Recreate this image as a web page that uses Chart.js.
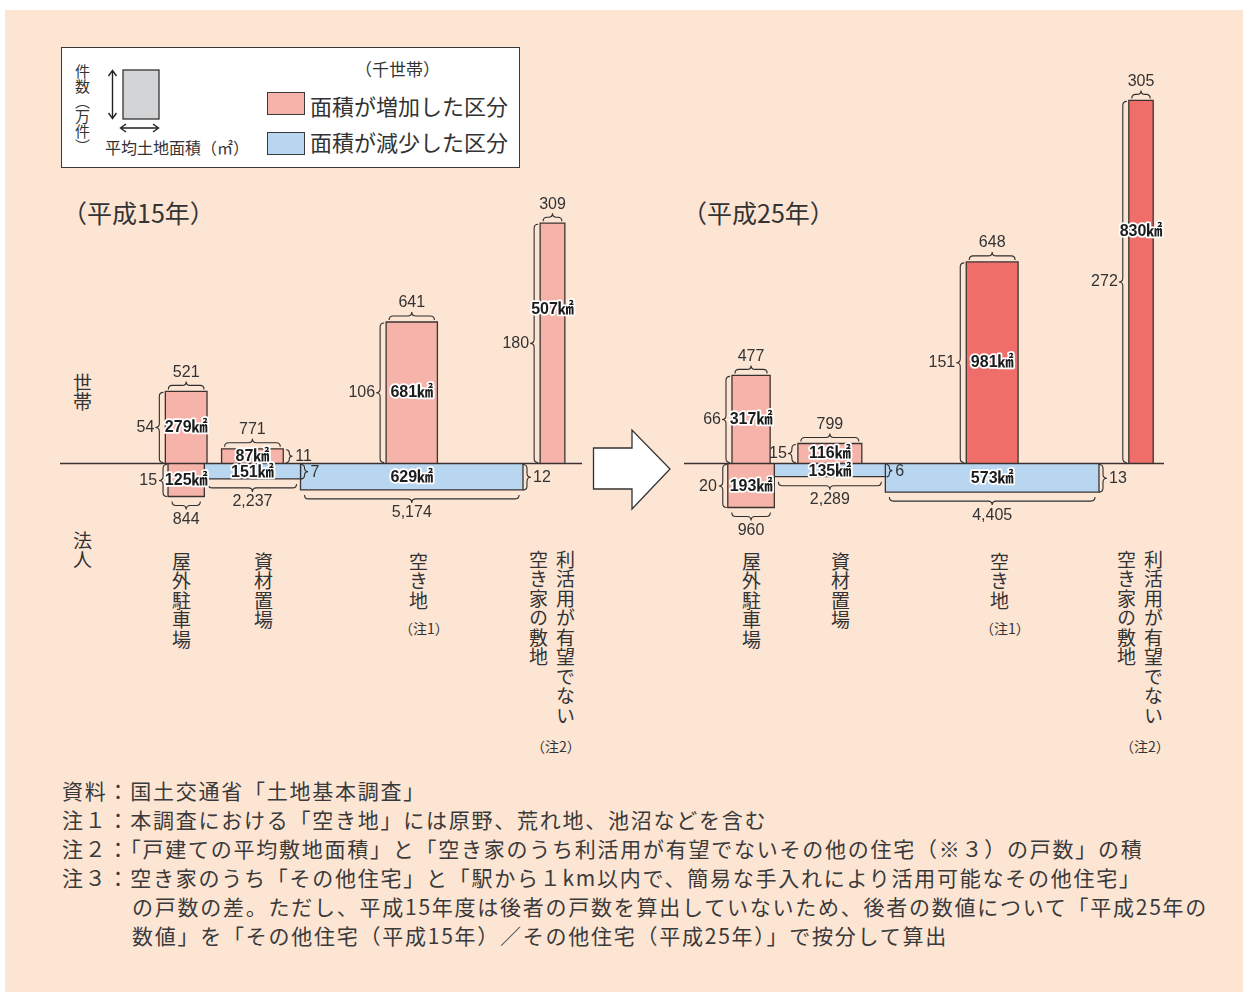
<!DOCTYPE html>
<html lang="ja">
<head>
<meta charset="utf-8">
<script src="https://cdn.jsdelivr.net/npm/chart.js@4.4.1/dist/chart.umd.min.js"></script>
<style>
  body { margin: 0; width: 1243px; height: 992px; background: #fff; position: relative; overflow: hidden;
         font-family: "Noto Sans CJK JP", sans-serif; color: #333; }
  #bg { position: absolute; left: 5px; top: 10px; right: 0; bottom: 0; background: #fde5d4; }
  .abs { position: absolute; white-space: nowrap; }
  .vt { writing-mode: vertical-rl; }
  canvas { position: absolute; }
  #legend { position: absolute; left: 61px; top: 47px; width: 459px; height: 121px; box-sizing: border-box;
            border: 1.5px solid #3a3a3a; background: #fff; }
  .sw { position: absolute; width: 38px; height: 23px; box-sizing: border-box; border: 1.5px solid #3a3a3a; }
  .title { font-size: 25px; line-height: 30px; }
  .cat { font-size: 19px; letter-spacing: 0.5px; line-height: 20px; }
  .chu { font-size: 14px; line-height: 18px; }
  .note { font-size: 21px; letter-spacing: 1.75px; line-height: 30px; color: #3a3a3a; }
</style>
</head>
<body>
<div id="bg"></div>

<div id="legend"></div>
<svg class="abs" style="left:100px;top:60px" width="70" height="80">
  <rect x="23" y="10" width="36" height="49" fill="#d3d4d6" stroke="#333" stroke-width="1.3"/>
  <g stroke="#222" stroke-width="1.4" fill="none">
    <line x1="12.5" y1="11" x2="12.5" y2="58"/>
    <polyline points="8.5,16 12.5,10.5 16.5,16"/>
    <polyline points="8.5,53 12.5,58.5 16.5,53"/>
    <line x1="21" y1="68" x2="58" y2="68"/>
    <polyline points="26,64 20.5,68 26,72"/>
    <polyline points="53,64 58.5,68 53,72"/>
  </g>
</svg>
<div class="abs vt" style="left:74px;top:64px;font-size:15px;line-height:16px">件数（万件）</div>
<div class="abs" style="left:105px;top:136px;font-size:16px;line-height:22px">平均土地面積（㎡）</div>
<div class="abs" style="left:355px;top:57px;font-size:17px;line-height:24px">（千世帯）</div>
<div class="sw" style="left:267px;top:92px;background:#f6b3a9"></div>
<div class="abs" style="left:310px;top:89px;font-size:22px;line-height:32px">面積が増加した区分</div>
<div class="sw" style="left:267px;top:132px;background:#b9d6f0"></div>
<div class="abs" style="left:310px;top:125px;font-size:22px;line-height:32px">面積が減少した区分</div>

<div class="abs title" style="left:62px;top:197px">（平成15年）</div>
<div class="abs title" style="left:682px;top:197px">（平成25年）</div>

<div class="abs vt" style="left:73px;top:373px;font-size:19px;line-height:19px">世帯</div>
<div class="abs vt" style="left:73px;top:531px;font-size:19px;line-height:19px">法人</div>

<svg class="abs" style="left:590px;top:426px" width="85" height="88">
  <polygon points="3.5,22 42,22 42,4 80,43 42,83 42,63 3.5,63" fill="#fff" stroke="#333" stroke-width="1.3"/>
</svg>

<canvas id="c15" width="522" height="475" style="left:60px;top:60px"></canvas>
<canvas id="c25" width="480" height="475" style="left:684px;top:60px"></canvas>

<!-- 区分名（縦書き） -->
<div class="abs vt cat" style="left:171px;top:552px">屋外駐車場</div>
<div class="abs vt cat" style="left:253px;top:552px">資材置場</div>
<div class="abs vt cat" style="left:408px;top:552px">空き地</div>
<div class="abs chu" style="left:399px;top:619px">（注1）</div>
<div class="abs vt cat" style="left:555px;top:550px">利活用が有望でない</div>
<div class="abs vt cat" style="left:528px;top:550px">空き家の敷地</div>
<div class="abs chu" style="left:531px;top:737px">（注2）</div>

<div class="abs vt cat" style="left:741px;top:552px">屋外駐車場</div>
<div class="abs vt cat" style="left:830px;top:552px">資材置場</div>
<div class="abs vt cat" style="left:989px;top:552px">空き地</div>
<div class="abs chu" style="left:980px;top:619px">（注1）</div>
<div class="abs vt cat" style="left:1143px;top:550px">利活用が有望でない</div>
<div class="abs vt cat" style="left:1116px;top:550px">空き家の敷地</div>
<div class="abs chu" style="left:1120px;top:737px">（注2）</div>

<div class="abs note" style="left:62px;top:775px">資料：国土交通省「土地基本調査」</div>
<div class="abs note" style="left:62px;top:804px">注１：本調査における「空き地」には原野、荒れ地、池沼などを含む</div>
<div class="abs note" style="left:62px;top:833px">注２：「戸建ての平均敷地面積」と「空き家のうち利活用が有望でないその他の住宅（※３）の戸数」の積</div>
<div class="abs note" style="left:62px;top:862px">注３：空き家のうち「その他住宅」と「駅から１km以内で、簡易な手入れにより活用可能なその他住宅」</div>
<div class="abs note" style="left:132px;top:891px">の戸数の差。ただし、平成15年度は後者の戸数を算出していないため、後者の数値について「平成25年の</div>
<div class="abs note" style="left:132px;top:920px">数値」を「その他住宅（平成15年）／その他住宅（平成25年）」で按分して算出</div>

<script>
const categories = ['屋外駐車場', '資材置場', '空き地', '利活用が有望でない空き家の敷地'];

// 平成15年: 世帯（件数・平均面積㎡・総面積㎢）と法人
const hh15Count = [54, 11, 106, 180];
const hh15Area = [521, 771, 641, 309];
const hh15Total = [279, 87, 681, 507];
const corp15Count = [15, 7, 12];
const corp15Area = [844, 2237, 5174];
const corp15Total = [125, 151, 629];

// 平成25年
const hh25Count = [66, 15, 151, 272];
const hh25Area = [477, 799, 648, 305];
const hh25Total = [317, 116, 981, 830];
const corp25Count = [20, 6, 13];
const corp25Area = [960, 2289, 4405];
const corp25Total = [193, 135, 573];

const PINK = '#f6b3a9', RED = '#ef6e69', BLUE = '#b9d6f0', EDGE = '#3b3330';
const hh15Color = [PINK, PINK, PINK, PINK];
const corp15Color = [PINK, BLUE, BLUE];
const hh25Color = [PINK, PINK, RED, RED];
const corp25Color = [PINK, BLUE, BLUE];

const AXIS_Y = 403.5;      // baseline inside each canvas
const PX_HH = 1.335;       // px per 世帯件数
const PX_CORP = 2.2;       // px per 法人件数
const PX_HH_AREA = 0.08;   // px per ㎡ (世帯)
const NUM_FONT = '16px "Liberation Sans", "Noto Sans CJK JP", sans-serif';
const AREA_FONT = 'bold 16px "Liberation Sans", "Noto Sans CJK JP", sans-serif';

const fmt = v => v.toLocaleString('en-US');

function rect(x0, x1, h) {
  return [{x: x0, y: 0}, {x: x0, y: h}, {x: x1, y: h}, {x: x1, y: 0}];
}

// curly brace along a->b, tip pointing to (nx, ny)
function brace(ctx, ax, ay, bx, by, nx, ny, q) {
  const len = Math.hypot(bx - ax, by - ay);
  const tx = (bx - ax) / len, ty = (by - ay) / len;
  q = Math.min(q, len / 4);
  const P = (u, v) => [ax + tx * u + nx * v, ay + ty * u + ny * v];
  const m = len / 2;
  ctx.beginPath();
  ctx.moveTo(...P(0, -q));
  ctx.quadraticCurveTo(...P(0, 0), ...P(q, 0));
  ctx.lineTo(...P(m - q, 0));
  ctx.quadraticCurveTo(...P(m, 0), ...P(m, q));
  ctx.quadraticCurveTo(...P(m, 0), ...P(m + q, 0));
  ctx.lineTo(...P(len - q, 0));
  ctx.quadraticCurveTo(...P(len, 0), ...P(len, -q));
  ctx.stroke();
}

function haloText(ctx, text, x, y) {
  ctx.font = AREA_FONT;
  ctx.textAlign = 'center';
  ctx.textBaseline = 'middle';
  ctx.lineJoin = 'round';
  ctx.lineWidth = 3.5;
  ctx.strokeStyle = '#fff';
  ctx.strokeText(text, x, y);
  ctx.fillStyle = '#1c1c1c';
  ctx.fillText(text, x, y);
}

function buildPanel(id, p) {
  const canvas = document.getElementById(id);
  const W = canvas.width, H = canvas.height;
  const corpSum = p.corpArea.reduce((a, b) => a + b, 0);
  const minC = corpSum - (p.corpEnd - p.left) / p.kC;
  const maxC = minC + W / p.kC;
  const r = p.kC / PX_HH_AREA;

  // 法人の区分は左から隙間なく並べ、世帯の棒はその中央に置く
  const corpX = [];
  let acc = 0;
  p.corpArea.forEach(a => { corpX.push([acc, acc + a]); acc += a; });
  const centers = corpX.map(c => (c[0] + c[1]) / 2);
  centers.push(corpSum + p.lastGap / p.kC);
  const hhX = p.hhArea.map((a, i) => [centers[i] * r - a / 2, centers[i] * r + a / 2]);

  const common = {showLine: true, fill: 'origin', pointRadius: 0, borderColor: EDGE,
                  borderWidth: 1.3, borderJoinStyle: 'miter', tension: 0};
  const datasets = [];
  p.hhCount.forEach((n, i) => datasets.push(Object.assign({
    label: categories[i], data: rect(hhX[i][0], hhX[i][1], n),
    xAxisID: 'xH', yAxisID: 'yH', backgroundColor: p.hhColor[i]}, common)));
  p.corpCount.forEach((n, i) => datasets.push(Object.assign({
    label: categories[i], data: rect(corpX[i][0], corpX[i][1], n),
    xAxisID: 'xC', yAxisID: 'yC', backgroundColor: p.corpColor[i]}, common)));

  const annotate = {
    id: 'annotate',
    afterDatasetsDraw(chart) {
      const {ctx, chartArea} = chart;
      const {xH, yH, xC, yC} = chart.scales;
      const base = yH.getPixelForValue(0);
      ctx.save();
      ctx.strokeStyle = '#3a3230';
      ctx.lineWidth = 1.5;
      ctx.beginPath();
      ctx.moveTo(chartArea.left, base);
      ctx.lineTo(chartArea.right, base);
      ctx.stroke();

      ctx.lineWidth = 1.1;
      ctx.strokeStyle = '#2e2e2e';

      p.hhCount.forEach((n, i) => {
        const L = xH.getPixelForValue(hhX[i][0]);
        const R = xH.getPixelForValue(hhX[i][1]);
        const T = yH.getPixelForValue(n);
        const yb = T - 6;
        brace(ctx, L + 3, yb, R - 3, yb, 0, -1, 4);
        ctx.fillStyle = '#333'; ctx.font = NUM_FONT;
        ctx.textAlign = 'center'; ctx.textBaseline = 'bottom';
        ctx.fillText(fmt(p.hhArea[i]), (L + R) / 2, yb - 5);
        const right = p.hhSide[i] === 'R';
        const xb = right ? R + 6 : L - 6;
        brace(ctx, xb, base - 1, xb, T + 1, right ? 1 : -1, 0, 4);
        ctx.textBaseline = 'middle';
        ctx.textAlign = right ? 'left' : 'right';
        ctx.fillText(fmt(n), xb + (right ? 6 : -5), (base + T) / 2);
      });

      p.corpCount.forEach((n, i) => {
        const L = xC.getPixelForValue(corpX[i][0]);
        const R = xC.getPixelForValue(corpX[i][1]);
        const B = yC.getPixelForValue(n);
        const yb = B + 9;
        brace(ctx, L + 4, yb, R - 4, yb, 0, 1, 4);
        ctx.fillStyle = '#333'; ctx.font = NUM_FONT;
        ctx.textAlign = 'center'; ctx.textBaseline = 'top';
        ctx.fillText(fmt(p.corpArea[i]), (L + R) / 2, yb + 6);
        const right = p.corpSide[i] === 'R';
        const xb = right ? R + 4 : L - 5;
        brace(ctx, xb, base + 1, xb, B, right ? 1 : -1, 0, 4);
        ctx.textBaseline = 'middle';
        ctx.textAlign = right ? 'left' : 'right';
        ctx.fillText(fmt(n), xb + (right ? 6 : -6), (base + B) / 2 + 1);
      });

      // 総面積（㎢）
      p.hhTotal.forEach((v, i) => {
        const L = xH.getPixelForValue(hhX[i][0]);
        const R = xH.getPixelForValue(hhX[i][1]);
        const T = yH.getPixelForValue(p.hhCount[i]);
        const f = i === 3 ? 0.36 : 0.5;
        haloText(ctx, v + '㎢', (L + R) / 2, T + (base - T) * f);
      });
      p.corpTotal.forEach((v, i) => {
        const L = xC.getPixelForValue(corpX[i][0]);
        const R = xC.getPixelForValue(corpX[i][1]);
        const B = yC.getPixelForValue(p.corpCount[i]);
        haloText(ctx, v + '㎢', (L + R) / 2, (base + B) / 2 + 1);
      });
      ctx.restore();
    }
  };

  const hidden = {display: false, grid: {display: false}};
  return new Chart(canvas, {
    type: 'scatter',
    data: {datasets},
    options: {
      responsive: false,
      animation: false,
      events: [],
      layout: {padding: 0},
      plugins: {legend: {display: false}, tooltip: {enabled: false}},
      scales: {
        xH: Object.assign({type: 'linear', position: 'bottom', min: minC * r, max: maxC * r}, hidden),
        xC: Object.assign({type: 'linear', position: 'bottom', min: minC, max: maxC}, hidden),
        yH: Object.assign({type: 'linear', min: -(H - AXIS_Y) / PX_HH, max: AXIS_Y / PX_HH}, hidden),
        yC: Object.assign({type: 'linear', reverse: true, min: -AXIS_Y / PX_CORP, max: (H - AXIS_Y) / PX_CORP}, hidden)
      }
    },
    plugins: [annotate]
  });
}

buildPanel('c15', {
  left: 60, kC: 0.043, corpEnd: 523, lastGap: 29.5,
  hhCount: hh15Count, hhArea: hh15Area, hhTotal: hh15Total, hhColor: hh15Color, hhSide: ['L', 'R', 'L', 'L'],
  corpCount: corp15Count, corpArea: corp15Area, corpTotal: corp15Total, corpColor: corp15Color, corpSide: ['L', 'R', 'R']
});
buildPanel('c25', {
  left: 684, kC: 0.0485, corpEnd: 1099, lastGap: 42,
  hhCount: hh25Count, hhArea: hh25Area, hhTotal: hh25Total, hhColor: hh25Color, hhSide: ['L', 'L', 'L', 'L'],
  corpCount: corp25Count, corpArea: corp25Area, corpTotal: corp25Total, corpColor: corp25Color, corpSide: ['L', 'R', 'R']
});
</script>
</body>
</html>
